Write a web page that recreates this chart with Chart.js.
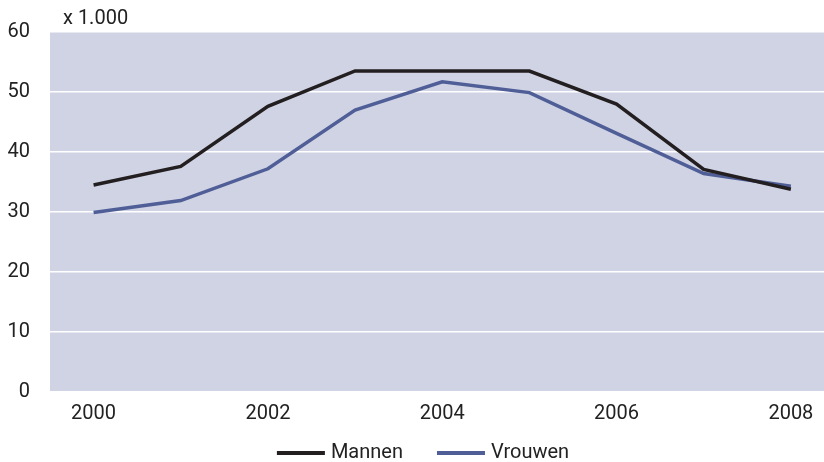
<!DOCTYPE html>
<html>
<head>
<meta charset="utf-8">
<script src="https://cdn.jsdelivr.net/npm/chart.js@4"></script>
<style>
  html, body { margin: 0; padding: 0; background: #fff; overflow: hidden; }
  #wrap { width: 824px; height: 462px; }
</style>
</head>
<body>
<div id="wrap"><canvas id="chart"></canvas></div>
<script>
// jaren en waarden (x 1.000)
const years = [2000, 2001, 2002, 2003, 2004, 2005, 2006, 2007, 2008];
const mannen = [34.5, 37.6, 47.6, 53.5, 53.5, 53.5, 48.0, 37.1, 33.8];
const vrouwen = [29.9, 31.9, 37.2, 47.0, 51.7, 49.9, 43.1, 36.4, 34.3];
const yearTicks = [2000, 2002, 2004, 2006, 2008];
const yTicks = [0, 10, 20, 30, 40, 50, 60];
const unitLabel = "x 1.000";

const FONT = "Roboto";
const TEXT = "#222";

// achtergrond van het plotvlak, eenheid boven de as en de legenda onderaan
const extras = {
  id: "extras",
  beforeDraw(chart) {
    const { ctx, chartArea: a } = chart;
    ctx.save();
    ctx.fillStyle = "#d0d3e4";
    ctx.fillRect(a.left, a.top, a.right - a.left, a.bottom - a.top);
    ctx.restore();
  },
  afterDraw(chart) {
    const { ctx, chartArea: a } = chart;
    ctx.save();
    ctx.font = "20px " + FONT;
    ctx.fillStyle = TEXT;
    ctx.textBaseline = "middle";
    ctx.fillText(unitLabel, a.left + 13, a.top - 13);

    // legenda
    const sw = 48, gap = 6, between = 34, y = 453;
    const items = chart.data.datasets.map(ds => ({
      label: ds.label, color: ds.borderColor, w: sw + gap + ctx.measureText(ds.label).width
    }));
    const total = items.reduce((s, it) => s + it.w, 0) + between * (items.length - 1);
    let x = chart.width / 2 + 11 - total / 2;
    items.forEach(it => {
      ctx.fillStyle = it.color;
      ctx.fillRect(x, y - 2, sw, 4);
      ctx.fillStyle = TEXT;
      ctx.fillText(it.label, x + sw + gap, y);
      x += it.w + between;
    });
    ctx.restore();
  }
};

new Chart(document.getElementById("chart"), {
  type: "line",
  data: {
    datasets: [
      {
        label: "Mannen",
        data: years.map((y, i) => ({ x: y, y: mannen[i] })),
        borderColor: "#231f20",
        backgroundColor: "#231f20",
        borderWidth: 3.5,
        pointRadius: 0,
        tension: 0
      },
      {
        label: "Vrouwen",
        data: years.map((y, i) => ({ x: y, y: vrouwen[i] })),
        borderColor: "#4f5e97",
        backgroundColor: "#4f5e97",
        borderWidth: 3.5,
        pointRadius: 0,
        tension: 0
      }
    ]
  },
  options: {
    responsive: true,
    maintainAspectRatio: false,
    animation: false,
    layout: { padding: { top: 30, left: 8, right: 0, bottom: 34 } },
    plugins: {
      tooltip: { enabled: false },
      legend: { display: false }
    },
    scales: {
      x: {
        type: "linear",
        min: 1999.5,
        max: 2008.38,
        afterBuildTicks: s => { s.ticks = yearTicks.map(v => ({ value: v })); },
        afterFit: s => { s.height = 36; s.paddingLeft = 0; s.paddingRight = 0; },
        grid: { display: false, drawTicks: false },
        border: { display: false },
        ticks: {
          font: { family: FONT, size: 20 },
          color: TEXT,
          padding: 10,
          maxRotation: 0,
          callback: v => String(v)
        }
      },
      y: {
        min: 0,
        max: 60,
        afterBuildTicks: s => { s.ticks = yTicks.map(v => ({ value: v })); },
        afterFit: s => { s.width = 42; },
        grid: { color: "#ffffff", lineWidth: 1.5, drawTicks: false },
        border: { display: false },
        ticks: {
          font: { family: FONT, size: 20 },
          color: TEXT,
          padding: 20
        }
      }
    }
  },
  plugins: [extras]
});
</script>
</body>
</html>
